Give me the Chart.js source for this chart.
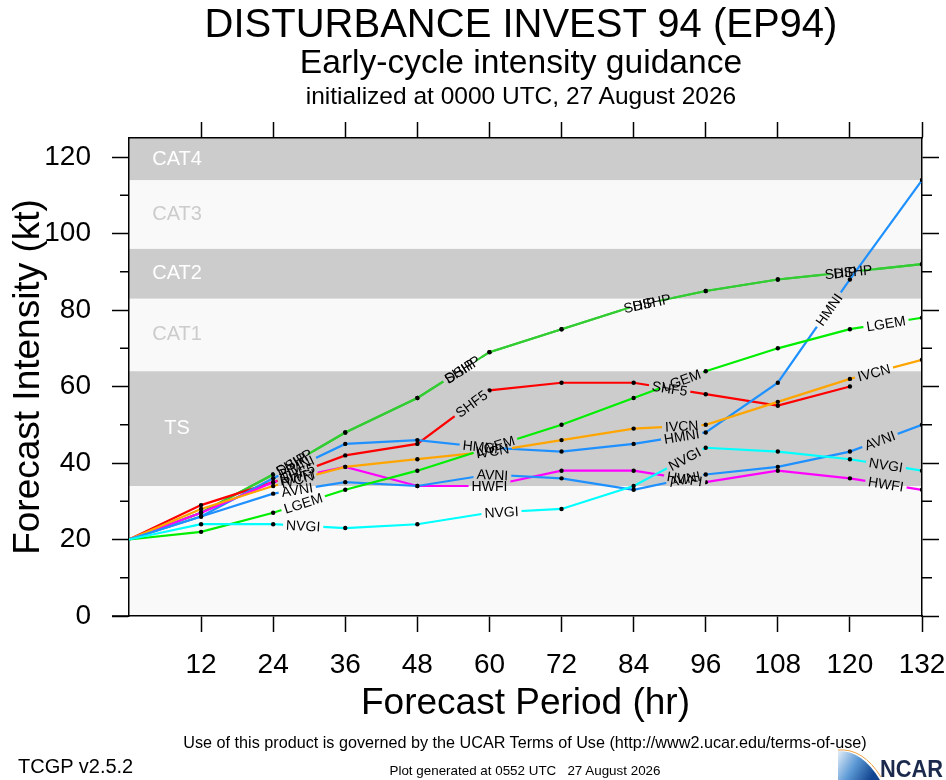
<!DOCTYPE html>
<html>
<head>
<meta charset="utf-8">
<title>EP94 intensity guidance</title>
<script src="https://cdn.jsdelivr.net/npm/chart.js@4.4.1/dist/chart.umd.min.js"></script>
<style>
  body { margin: 0; background: #fff; overflow: hidden; }
  #wrap { position: relative; width: 946px; height: 780px; font-family: "Liberation Sans", Arial, Helvetica, sans-serif; color: #000; }
  #wrap canvas { position: absolute; left: 0; top: 0; }
  .txt { position: absolute; white-space: pre; line-height: 1; }
  .mid { left: 525px; transform: translateX(-50%); }
  .head { left: 521px; transform: translateX(-50%); }
  #ncar { position: absolute; left: 836px; top: 744px; }
</style>
</head>
<body>
<div id="wrap">
  <canvas id="chart" width="946" height="780"></canvas>
  <div class="txt head" style="top:3px;font-size:40px">DISTURBANCE INVEST 94 (EP94)</div>
  <div class="txt head" style="top:45px;font-size:33.6px">Early-cycle intensity guidance</div>
  <div class="txt head" style="top:84px;font-size:24.5px">initialized at 0000 UTC, 27 August 2026</div>
  <div class="txt mid" style="top:734px;font-size:16.2px">Use of this product is governed by the UCAR Terms of Use (http://www2.ucar.edu/terms-of-use)</div>
  <div class="txt" style="left:18px;top:756px;font-size:20px">TCGP v2.5.2</div>
  <div class="txt mid" style="top:764px;font-size:13.4px">Plot generated at 0552 UTC   27 August 2026</div>
  <svg id="ncar" width="110" height="36" viewBox="0 0 110 36">
    <defs>
      <linearGradient id="sw" x1="0" y1="0" x2="1" y2="0.4">
        <stop offset="0" stop-color="#e4eef8"/>
        <stop offset="0.5" stop-color="#5d9ad6"/>
        <stop offset="1" stop-color="#12458f"/>
      </linearGradient>
    </defs>
    <path d="M2 7 Q26 6 44 36 L2 36 Z" fill="url(#sw)"/>
    <path d="M2 6 Q27 4 45 33" fill="none" stroke="#f0a040" stroke-width="1"/>
    <text x="44" y="33" font-family="Liberation Sans, Arial, sans-serif" font-weight="bold" font-size="24" fill="#1b2a4c" textLength="63" lengthAdjust="spacingAndGlyphs">NCAR</text>
  </svg>
</div>

<script>
// forecast hours and axis ticks
const hours = [0, 12, 24, 36, 48, 60, 72, 84, 96, 108, 120, 132];
const xTicks = [12, 24, 36, 48, 60, 72, 84, 96, 108, 120, 132];
const yTicks = [0, 20, 40, 60, 80, 100, 120];
const yMinorTicks = [10, 30, 50, 70, 90, 110];

// intensity bands (kt)
const bandNames = ["TS", "CAT1", "CAT2", "CAT3", "CAT4"];
const bandLows = [34, 64, 83, 96, 114];
const bandHighs = [64, 83, 96, 114, 137];

// model intensities (kt), one value per forecast hour
const dshp = [20, 27, 37, 48, 57, 69, 75, 81, 85, 88, 90, 92];
const ship = [20, 27, 37, 48, 57, 69, 75, 81, 85, 88, 90, 92];
const shf5 = [20, 29, 35, 42, 45, 59, 61, 61, 58, 55, 60, null];
const hmni = [20, 26, 36, 45, 46, 44, 43, 45, 48, 61, 88, 114];
const hwfi = [20, 27, 35, 39, 34, 34, 38, 38, 35, 38, 36, 33];
const ivcn = [20, 28, 34, 39, 41, 43, 46, 49, 50, 56, 62, 67];
const avni = [20, 26, 32, 35, 34, 37, 36, 33, 37, 39, 43, 50];
const lgem = [20, 22, 27, 33, 38, 44, 50, 57, 64, 70, 75, 78];
const nvgi = [20, 24, 24, 23, 24, 27, 28, 34, 44, 43, 41, 38];

const FONT = '"Liberation Sans", Arial, Helvetica, sans-serif';
const LABEL_FONT = "14px " + FONT;

// colour + where the in-line name sits (hours along the track)
const models = [
  { name: "NVGI", vals: nvgi, color: "#00ffff", at: [29, 62, 92.5, 126] },
  { name: "LGEM", vals: lgem, color: "#00ee00", at: [29, 61, 92, 126] },
  { name: "AVNI", vals: avni, color: "#1e90ff", at: [28, 60.5, 92.5, 125] },
  { name: "IVCN", vals: ivcn, color: "#ffa500", at: [28, 60.5, 92, 124] },
  { name: "HWFI", vals: hwfi, color: "#ff00ff", at: [28, 60, 92.5, 126] },
  { name: "HMNI", vals: hmni, color: "#1e90ff", at: [28, 58.5, 92, 116.5] },
  { name: "SHF5", vals: shf5, color: "#ff0000", at: [28, 57, 90] },
  { name: "SHIP", vals: ship, color: "#33cc33", at: [27, 55, 85, 118.5] },
  { name: "DSHP", vals: dshp, color: "#33cc33", at: [27.5, 55.5, 87, 120.5] }
];

function labelSpots(chart, i) {
  const ds = chart.data.datasets[i];
  const xs = chart.scales.x, ys = chart.scales.y;
  const ctx = chart.ctx;
  ctx.save();
  ctx.font = LABEL_FONT;
  const w = ctx.measureText(ds.label).width;
  ctx.restore();
  const pts = ds.data;
  const spots = [];
  ds.labelAt.forEach(h => {
    for (let k = 0; k < pts.length - 1; k++) {
      const a = pts[k], b = pts[k + 1];
      if (a.y == null || b.y == null) continue;
      if (h >= a.x && h <= b.x) {
        const x0 = xs.getPixelForValue(a.x), y0 = ys.getPixelForValue(a.y);
        const x1 = xs.getPixelForValue(b.x), y1 = ys.getPixelForValue(b.y);
        const t = (h - a.x) / (b.x - a.x);
        spots.push({ x: x0 + t * (x1 - x0), y: y0 + t * (y1 - y0), a: Math.atan2(y1 - y0, x1 - x0), w });
        break;
      }
    }
  });
  return spots;
}

const extras = {
  id: "extras",
  beforeDraw(chart) {
    const { ctx, chartArea: ca } = chart;
    const xs = chart.scales.x, ys = chart.scales.y;
    ctx.save();
    ctx.fillStyle = "#f9f9f9";
    ctx.fillRect(ca.left, ca.top, ca.right - ca.left, ca.bottom - ca.top);
    bandNames.forEach((name, i) => {
      const yTop = ys.getPixelForValue(Math.min(bandHighs[i], ys.max));
      const yBot = ys.getPixelForValue(bandLows[i]);
      const dark = i % 2 === 0;
      if (dark) {
        ctx.fillStyle = "#cccccc";
        ctx.fillRect(ca.left, yTop, ca.right - ca.left, yBot - yTop);
      }
      ctx.fillStyle = dark ? "#ffffff" : "#cccccc";
      ctx.font = "20px " + FONT;
      ctx.textAlign = "center";
      ctx.textBaseline = "middle";
      ctx.fillText(name, xs.getPixelForValue(8), (yTop + yBot) / 2);
    });
    ctx.restore();
  },
  beforeDatasetDraw(chart, args) {
    const ctx = chart.ctx;
    ctx.save();
    ctx.beginPath();
    ctx.rect(0, 0, chart.width, chart.height);
    labelSpots(chart, args.index).forEach(s => {
      const c = Math.cos(s.a), sn = Math.sin(s.a);
      const hw = s.w / 2 + 3, hh = 8;
      [[-hw, -hh], [hw, -hh], [hw, hh], [-hw, hh]].forEach(([u, v], j) => {
        const px = s.x + u * c - v * sn, py = s.y + u * sn + v * c;
        if (j) ctx.lineTo(px, py); else ctx.moveTo(px, py);
      });
      ctx.closePath();
    });
    ctx.clip("evenodd");
  },
  afterDatasetDraw(chart) {
    chart.ctx.restore();
  },
  afterDatasetsDraw(chart) {
    const ctx = chart.ctx;
    chart.data.datasets.forEach((ds, i) => {
      labelSpots(chart, i).forEach(s => {
        ctx.save();
        ctx.translate(s.x, s.y);
        ctx.rotate(s.a);
        ctx.font = LABEL_FONT;
        ctx.fillStyle = "#000";
        ctx.textAlign = "center";
        ctx.textBaseline = "middle";
        ctx.fillText(ds.label, 0, 1);
        ctx.restore();
      });
    });
  },
  afterDraw(chart) {
    const { ctx, chartArea: ca } = chart;
    const ys = chart.scales.y;
    ctx.save();
    ctx.strokeStyle = "#000";
    ctx.lineWidth = 1.5;
    ctx.beginPath();
    yMinorTicks.forEach(v => {
      const py = ys.getPixelForValue(v);
      ctx.moveTo(ca.left - 9, py); ctx.lineTo(ca.left, py);
      ctx.moveTo(ca.right, py); ctx.lineTo(ca.right + 10, py);
    });
    // bottom axis line runs a little past the left edge
    ctx.moveTo(ca.left - 17, ca.bottom); ctx.lineTo(ca.left, ca.bottom);
    ctx.stroke();
    ctx.restore();
  }
};

Chart.defaults.font.family = FONT;
Chart.defaults.color = "#000";

const tickGrid = len => ({ drawOnChartArea: false, drawTicks: true, tickLength: len, tickColor: "#000", tickWidth: 1.5 });
const axisBorder = { display: true, color: "#000", width: 1.5 };
const fixSize = (w, h) => s => {
  if (w != null) s.width = w;
  if (h != null) s.height = h;
  s.paddingLeft = 0; s.paddingRight = 0; s.paddingTop = 0; s.paddingBottom = 0;
};

new Chart(document.getElementById("chart"), {
  type: "line",
  data: {
    datasets: models.map(m => ({
      label: m.name,
      labelAt: m.at,
      data: hours.map((h, k) => ({ x: h, y: m.vals[k] })),
      borderColor: m.color,
      borderWidth: 2.2,
      pointRadius: c => (c.dataIndex === 0 ? 0 : 2.2),
      pointBackgroundColor: "#000",
      pointBorderWidth: 0,
      tension: 0
    }))
  },
  options: {
    responsive: false,
    animation: false,
    devicePixelRatio: 1,
    layout: { padding: 0 },
    plugins: { legend: { display: false }, tooltip: { enabled: false } },
    scales: {
      x: {
        type: "linear", position: "bottom", min: 0, max: 132,
        afterBuildTicks: s => { s.ticks = xTicks.map(v => ({ value: v })); },
        afterFit: fixSize(null, 164),
        ticks: { font: { size: 28 }, padding: 16, maxRotation: 0, autoSkip: false },
        grid: tickGrid(16),
        border: axisBorder,
        title: { display: true, text: "Forecast Period (hr)", font: { size: 37 }, padding: { top: 0, bottom: 54 } }
      },
      xTop: {
        type: "linear", position: "top", min: 0, max: 132,
        afterBuildTicks: s => { s.ticks = xTicks.map(v => ({ value: v })); },
        afterFit: fixSize(null, 138),
        ticks: { display: false },
        grid: tickGrid(16),
        border: axisBorder
      },
      y: {
        type: "linear", position: "left", min: 0, max: 125,
        afterBuildTicks: s => { s.ticks = yTicks.map(v => ({ value: v })); },
        afterFit: fixSize(129, null),
        ticks: { font: { size: 28 }, padding: 21 },
        grid: tickGrid(17),
        border: axisBorder,
        title: { display: true, text: "Forecast Intensity (kt)", font: { size: 37 }, padding: { top: 7, bottom: 0 } }
      },
      yRight: {
        type: "linear", position: "right", min: 0, max: 125,
        afterBuildTicks: s => { s.ticks = yTicks.map(v => ({ value: v })); },
        afterFit: fixSize(24, null),
        ticks: { display: false },
        grid: tickGrid(17),
        border: axisBorder
      }
    }
  },
  plugins: [extras]
});
</script>
</body>
</html>
